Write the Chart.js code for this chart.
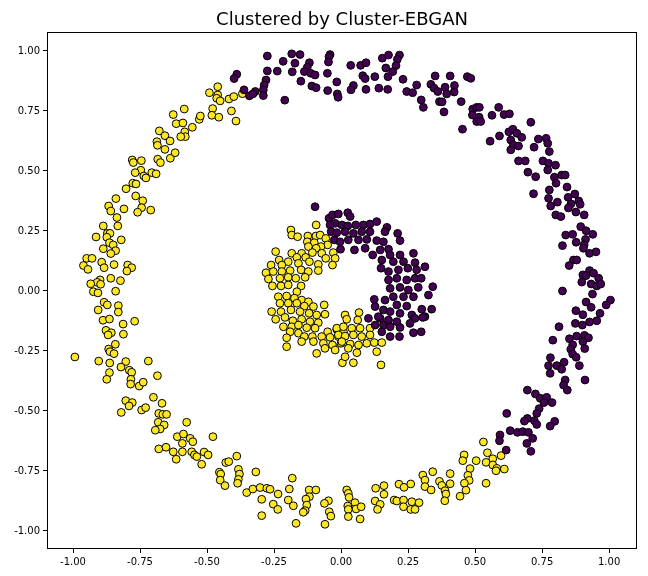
<!DOCTYPE html>
<html>
<head>
<meta charset="utf-8">
<script src="https://cdn.jsdelivr.net/npm/chart.js@4.4.0/dist/chart.umd.min.js"></script>
<style>
  body { margin: 0; background: #fff; }
  #wrap { width: 648px; height: 576px; }
</style>
</head>
<body>
<div id="wrap"><canvas id="scatter" width="648" height="576"></canvas></div>
<script>
/* Точки: внешнее и внутреннее кольцо, два кластера */
var chartTitle = 'Clustered by Cluster-EBGAN';
var xTicks = [-1, -0.75, -0.5, -0.25, 0, 0.25, 0.5, 0.75, 1];
var yTicks = [-1, -0.75, -0.5, -0.25, 0, 0.25, 0.5, 0.75, 1];

var outerPurple = [
  [-0.389,0.903],[-0.399,0.885],[-0.362,0.838],[-0.342,0.813],
  [-0.275,0.979],[-0.216,0.957],[-0.184,0.988],[-0.153,0.985],[-0.172,0.949],[-0.118,0.951],[-0.126,0.932],
  [-0.137,0.914],[-0.113,0.907],[-0.097,0.900],[-0.041,0.985],[-0.045,0.976],[-0.047,0.954],[-0.051,0.907],
  [-0.182,0.913],[-0.238,0.916],[-0.275,0.917],[-0.280,0.879],[-0.287,0.858],[-0.290,0.838],[-0.320,0.831],
  [-0.329,0.821],[-0.290,0.814],[-0.210,0.795],[-0.150,0.874],[-0.109,0.854],[-0.093,0.847],[-0.050,0.835],
  [-0.016,0.871],[-0.014,0.821],[-0.011,0.807],[0.036,0.940],[0.073,0.940],[0.093,0.951],[0.081,0.897],
  [0.090,0.885],[0.046,0.856],[0.037,0.838],[0.093,0.840],[0.126,0.893],[0.141,0.845],[0.154,0.970],
  [0.177,0.983],[0.218,0.983],[0.210,0.965],[0.205,0.939],[0.167,0.929],[0.193,0.914],[0.175,0.893],
  [0.174,0.840],[0.231,0.882],[0.282,0.858],[0.245,0.831],[0.267,0.826],[0.299,0.796],[0.307,0.765],
  [0.335,0.861],[0.351,0.896],[0.347,0.845],[0.361,0.831],[0.367,0.789],
  [0.407,0.896],[0.471,0.893],[0.484,0.886],[0.388,0.849],[0.423,0.856],[0.422,0.829],[0.394,0.821],
  [0.377,0.788],[0.448,0.789],[0.384,0.746],[0.491,0.758],[0.506,0.765],[0.516,0.765],[0.490,0.733],
  [0.515,0.724],[0.506,0.706],[0.521,0.706],[0.453,0.674],[0.563,0.732],[0.588,0.765],[0.608,0.735],
  [0.628,0.738],[0.708,0.703],[0.556,0.624],[0.591,0.646],[0.626,0.663],[0.641,0.674],[0.656,0.657],
  [0.674,0.640],[0.633,0.629],[0.643,0.608],[0.662,0.604],[0.633,0.588],[0.736,0.633],[0.765,0.636],
  [0.771,0.615],[0.720,0.599],[0.777,0.581],[0.662,0.542],[0.687,0.542],[0.753,0.542],[0.774,0.532],
  [0.800,0.524],[0.771,0.504],[0.697,0.495],[0.726,0.476],[0.796,0.474],[0.823,0.483],[0.836,0.483],
  [0.802,0.449],[0.843,0.433],[0.777,0.421],[0.718,0.405],[0.872,0.404],[0.774,0.386],[0.847,0.390],
  [0.887,0.375],[0.807,0.370],[0.858,0.363],[0.892,0.361],[0.782,0.354],[0.848,0.346],[0.876,0.329],
  [0.801,0.317],[0.820,0.310],[0.907,0.317],
  [0.894,0.268],[0.914,0.251],[0.939,0.236],[0.838,0.233],[0.864,0.236],[0.877,0.203],[0.912,0.215],
  [0.826,0.189],[0.907,0.192],[0.904,0.178],[0.927,0.157],[0.951,0.163],[0.867,0.129],[0.879,0.129],
  [0.851,0.106],[0.927,0.085],[0.942,0.074],[0.902,0.067],[0.914,0.064],[0.961,0.053],[0.898,0.037],
  [0.933,0.029],[0.954,0.021],[0.969,0.029],[0.826,0.000],[0.938,-0.013],[1.005,-0.038],[0.989,-0.058],
  [0.914,-0.046],[0.933,-0.068],[0.876,-0.082],[0.902,-0.099],[0.966,-0.093],[0.954,-0.124],[0.927,-0.129],
  [0.874,-0.135],[0.900,-0.142],[0.813,-0.149],[0.879,-0.188],[0.908,-0.185],[0.923,-0.195],[0.852,-0.199],
  [0.790,-0.205],[0.902,-0.211],[0.864,-0.224],[0.909,-0.240],[0.857,-0.243],[0.864,-0.263],[0.877,-0.276],
  [0.781,-0.278],[0.832,-0.297],[0.774,-0.311],[0.805,-0.311],[0.823,-0.326],[0.889,-0.311],[0.780,-0.343],
  [0.836,-0.371],[0.910,-0.371],[0.830,-0.392],[0.695,-0.413],
  [0.844,-0.413],[0.725,-0.429],[0.743,-0.447],[0.767,-0.443],[0.757,-0.465],[0.787,-0.465],[0.739,-0.490],
  [0.730,-0.510],[0.618,-0.510],[0.695,-0.531],[0.684,-0.542],[0.721,-0.540],[0.730,-0.556],[0.797,-0.543],
  [0.780,-0.563],[0.631,-0.582],[0.658,-0.589],[0.678,-0.586],[0.699,-0.589],[0.593,-0.600],[0.591,-0.624],
  [0.715,-0.614],[0.693,-0.635],[0.616,-0.663],[0.708,-0.668]
];

var outerYellow = [
  [-0.460,0.851],[-0.491,0.826],[-0.460,0.817],[-0.464,0.803],[-0.451,0.792],[-0.418,0.800],[-0.400,0.810],
  [-0.368,0.822],[-0.409,0.750],[-0.392,0.708],[-0.479,0.760],[-0.482,0.732],[-0.456,0.724],[-0.585,0.758],
  [-0.626,0.735],[-0.615,0.697],[-0.590,0.700],[-0.555,0.682],[-0.529,0.715],[-0.525,0.729],[-0.678,0.667],
  [-0.657,0.647],[-0.638,0.625],[-0.687,0.622],[-0.685,0.607],[-0.583,0.663],[-0.581,0.643],[-0.598,0.643],
  [-0.657,0.590],[-0.684,0.549],[-0.674,0.535],[-0.637,0.553],[-0.619,0.576],[-0.779,0.546],[-0.775,0.535],
  [-0.745,0.543],[-0.747,0.503],[-0.768,0.493],[-0.736,0.479],[-0.728,0.471],[-0.706,0.493],[-0.690,0.488],
  [-0.777,0.449],[-0.765,0.446],[-0.802,0.426],[-0.766,0.396],[-0.740,0.376],[-0.840,0.385],[-0.867,0.354],
  [-0.810,0.342],[-0.744,0.347],[-0.710,0.337],
  [-0.859,0.333],[-0.759,0.328],[-0.836,0.306],[-0.887,0.271],[-0.833,0.271],[-0.914,0.225],[-0.872,0.240],
  [-0.862,0.240],[-0.874,0.224],[-0.820,0.213],[-0.864,0.201],[-0.850,0.192],[-0.887,0.176],[-0.841,0.168],
  [-0.859,0.156],[-0.949,0.136],[-0.929,0.136],[-0.961,0.106],[-0.944,0.090],[-0.893,0.120],[-0.884,0.097],
  [-0.847,0.110],[-0.796,0.108],[-0.781,0.097],[-0.799,0.083],[-0.859,0.053],[-0.823,0.043],[-0.899,0.046],
  [-0.910,0.036],[-0.934,0.030],[-0.897,0.028],[-0.924,-0.003],[-0.907,-0.008],[-0.841,-0.001],[-0.884,-0.047],
  [-0.872,-0.058],[-0.831,-0.061],[-0.906,-0.079],[-0.831,-0.088],[-0.888,-0.122],[-0.864,-0.117],[-0.813,-0.138],
  [-0.770,-0.126],[-0.877,-0.164],[-0.857,-0.174],[-0.869,-0.183],[-0.812,-0.180],[-0.842,-0.222],[-0.867,-0.242],
  [-0.862,-0.253],[-0.847,-0.261],[-0.993,-0.275],[-0.904,-0.292],[-0.863,-0.300],[-0.803,-0.294],[-0.719,-0.292],
  [-0.821,-0.317],[-0.790,-0.330],[-0.781,-0.339],[-0.864,-0.340],
  [-0.874,-0.368],[-0.784,-0.368],[-0.785,-0.388],[-0.753,-0.396],[-0.738,-0.380],[-0.685,-0.353],[-0.803,-0.457],
  [-0.779,-0.465],[-0.791,-0.479],[-0.820,-0.506],[-0.744,-0.496],[-0.729,-0.486],[-0.700,-0.443],[-0.668,-0.468],
  [-0.680,-0.510],[-0.665,-0.514],[-0.651,-0.514],[-0.682,-0.547],[-0.660,-0.558],[-0.675,-0.575],[-0.693,-0.580],
  [-0.576,-0.547],[-0.611,-0.607],[-0.588,-0.596],[-0.563,-0.614],[-0.553,-0.628],[-0.592,-0.635],[-0.478,-0.607],
  [-0.680,-0.658],[-0.653,-0.651],[-0.626,-0.670],[-0.592,-0.670],[-0.615,-0.701],[-0.557,-0.670],[-0.547,-0.683],
  [-0.538,-0.690],[-0.511,-0.671],[-0.496,-0.683],[-0.520,-0.722],[-0.430,-0.715],[-0.419,-0.711],[-0.389,-0.688],
  [-0.454,-0.755],[-0.449,-0.763],[-0.451,-0.788],[-0.433,-0.811],[-0.383,-0.743],[-0.379,-0.763],[-0.383,-0.785],
  [-0.386,-0.801],
  [-0.318,-0.754],[-0.352,-0.840],[-0.329,-0.825],[-0.302,-0.819],[-0.277,-0.822],[-0.265,-0.826],[-0.235,-0.846],
  [-0.296,-0.868],[-0.253,-0.888],[-0.236,-0.910],[-0.296,-0.936],[-0.182,-0.780],[-0.193,-0.825],[-0.197,-0.871],
  [-0.178,-0.895],[-0.119,-0.829],[-0.094,-0.829],[-0.118,-0.857],[-0.131,-0.867],[-0.128,-0.892],[-0.134,-0.915],
  [-0.141,-0.922],[-0.168,-0.968],[-0.047,-0.874],[-0.062,-0.885],[-0.044,-0.920],[-0.038,-0.938],[-0.060,-0.972],
  [0.021,-0.829],[0.027,-0.843],[0.030,-0.860],[0.052,-0.882],[0.025,-0.896],[0.027,-0.910],[0.056,-0.908],
  [0.075,-0.899],[0.027,-0.940],[0.071,-0.950],[0.129,-0.822],[0.160,-0.811],[0.160,-0.847],[0.127,-0.875],
  [0.146,-0.889],[0.136,-0.910],[0.216,-0.805],[0.235,-0.818],[0.260,-0.804],[0.198,-0.871],[0.208,-0.875],
  [0.233,-0.871],[0.264,-0.878],[0.291,-0.882],[0.233,-0.899],[0.260,-0.910],[0.276,-0.910],[0.305,-0.767],
  [0.313,-0.788],[0.313,-0.815],
  [0.531,-0.629],[0.546,-0.674],[0.459,-0.683],[0.597,-0.686],[0.454,-0.707],[0.504,-0.707],[0.566,-0.699],
  [0.541,-0.714],[0.566,-0.725],[0.581,-0.739],[0.609,-0.742],[0.578,-0.749],[0.481,-0.740],[0.342,-0.753],
  [0.407,-0.761],[0.473,-0.768],[0.478,-0.789],[0.367,-0.793],[0.460,-0.801],[0.407,-0.803],[0.376,-0.810],
  [0.541,-0.801],[0.336,-0.829],[0.388,-0.832],[0.466,-0.830],[0.391,-0.846],[0.444,-0.855],[0.387,-0.874]
];

var innerPurple = [
  [-0.097,0.351],[-0.045,0.303],[-0.032,0.317],[-0.010,0.321],[-0.022,0.282],[-0.041,0.275],[0.003,0.275],
  [-0.037,0.247],[-0.016,0.243],[-0.025,0.213],[-0.004,0.205],[-0.002,0.174],
  [0.025,0.326],[0.034,0.310],[0.025,0.271],[0.055,0.275],[0.083,0.275],[0.108,0.279],[0.133,0.289],
  [0.171,0.265],[0.164,0.247],[0.211,0.240],[0.220,0.210],[0.015,0.247],[0.046,0.240],[0.077,0.247],
  [0.108,0.247],[0.027,0.213],[0.065,0.213],[0.096,0.215],[0.133,0.210],[0.158,0.205],[0.050,0.171],
  [0.090,0.178],[0.118,0.150],[0.146,0.171],[0.177,0.174],[0.183,0.150],[0.220,0.150],[0.270,0.157],
  [0.152,0.129],[0.195,0.122],[0.233,0.122],[0.276,0.118],[0.149,0.095],[0.177,0.081],[0.214,0.088],
  [0.249,0.095],[0.282,0.088],[0.313,0.101],[0.177,0.046],[0.208,0.053],[0.245,0.046],[0.276,0.053],
  [0.299,0.053],[0.183,0.011],[0.220,0.015],[0.251,0.004],[0.288,0.015],[0.326,-0.017],[0.195,-0.024],
  [0.233,-0.024],[0.270,-0.024],[0.124,-0.035],[0.164,-0.038],[0.127,-0.065],[0.208,-0.058],[0.245,-0.063],
  [0.301,-0.076],[0.158,-0.079],[0.183,-0.086],[0.220,-0.093],[0.264,-0.100],[0.313,-0.107],[0.102,-0.114],
  [0.146,-0.114],[0.177,-0.121],[0.208,-0.128],[0.276,-0.114],[0.127,-0.142],[0.158,-0.142],[0.183,-0.149],
  [0.220,-0.152],[0.257,-0.135],[0.270,-0.174],[0.299,-0.170],[0.152,-0.170],[0.183,-0.190],[0.218,-0.190],
  [0.342,0.018],[0.338,-0.076],[0.305,-0.110],[0.139,-0.107]
];

var innerYellow = [
  [-0.093,0.275],[-0.187,0.254],[-0.184,0.233],[-0.162,0.226],[-0.124,0.229],[-0.094,0.229],[-0.078,0.233],
  [-0.057,0.219],[-0.126,0.205],[-0.100,0.201],[-0.050,0.192],[-0.075,0.185],[-0.122,0.185],[-0.093,0.178],
  [-0.244,0.164],[-0.184,0.157],[-0.147,0.157],[-0.107,0.160],[-0.072,0.157],[-0.029,0.160],[-0.165,0.140],
  [-0.132,0.140],[-0.057,0.136],[-0.022,0.136],[-0.231,0.129],[-0.197,0.122],[-0.159,0.115],[-0.118,0.122],
  [-0.085,0.111],[-0.032,0.108],[-0.261,0.108],[-0.221,0.108],[-0.280,0.076],[-0.253,0.081],[-0.221,0.081],
  [-0.190,0.085],[-0.149,0.088],[-0.122,0.081],[-0.085,0.085],[-0.271,0.050],[-0.228,0.053],[-0.197,0.057],
  [-0.169,0.053],[-0.134,0.057],[-0.256,0.021],[-0.224,0.021],[-0.197,0.025],[-0.149,0.021],[-0.165,-0.003],
  [-0.234,-0.024],[-0.203,-0.021],[-0.174,-0.030],[-0.147,-0.038],[-0.122,-0.045],[-0.228,-0.051],[-0.197,-0.051],
  [-0.165,-0.051],[-0.137,-0.063],[-0.103,-0.065],[-0.063,-0.058],[-0.060,-0.097],[-0.259,-0.086],[-0.224,-0.086],
  [-0.187,-0.079],[-0.153,-0.086],[-0.119,-0.093],[-0.091,-0.100],[-0.244,-0.118],[-0.209,-0.110],[-0.180,-0.124],
  [-0.147,-0.118],[-0.116,-0.128],[-0.085,-0.132],[-0.215,-0.149],[-0.184,-0.149],[-0.159,-0.142],[-0.128,-0.153],
  [-0.097,-0.155],[-0.190,-0.170],[-0.159,-0.176],[-0.203,-0.195],[-0.137,-0.190],[-0.107,-0.190],[-0.050,-0.170],
  [-0.016,-0.160],[0.009,-0.170],[-0.072,-0.190],[-0.041,-0.193],[-0.010,-0.190],[-0.147,-0.211],[-0.103,-0.211],
  [-0.066,-0.218],[-0.032,-0.225],[0.000,-0.218],[-0.060,-0.239],[-0.022,-0.246],[-0.091,-0.260],[0.005,-0.299],
  [-0.203,-0.232],
  [0.067,-0.090],[0.015,-0.100],[0.021,-0.118],[0.062,-0.121],[-0.016,-0.155],[0.009,-0.149],[0.040,-0.155],
  [0.071,-0.155],[0.108,-0.155],[-0.010,-0.183],[0.015,-0.188],[0.046,-0.183],[0.077,-0.190],[0.108,-0.183],
  [0.003,-0.211],[0.034,-0.221],[0.065,-0.225],[0.096,-0.218],[0.124,-0.215],[0.152,-0.215],[0.027,-0.239],
  [0.059,-0.257],[0.133,-0.253],[0.015,-0.274],[0.046,-0.299],[0.149,-0.308]
];

function toXY(list) {
  return list.map(function (p) { return { x: p[0], y: p[1] }; });
}

var purple = '#440154';
var yellow = '#fde725';

/* рамка вокруг области графика и заголовок, как в matplotlib */
var framePlugin = {
  id: 'frame',
  afterDraw: function (chart) {
    var a = chart.chartArea;
    var c = chart.ctx;
    c.save();
    c.strokeStyle = '#000';
    c.lineWidth = 1;
    c.strokeRect(a.left + 0.5, a.top + 0.5, a.right - a.left - 1, a.bottom - a.top - 1);
    c.fillStyle = '#000';
    c.font = '18px "DejaVu Sans"';
    c.textAlign = 'center';
    c.textBaseline = 'alphabetic';
    c.fillText(chartTitle, (a.left + a.right) / 2, a.top - 7);
    c.restore();
  }
};

var pointStyle = {
  pointRadius: 3.9,
  pointHoverRadius: 3.9,
  borderColor: '#000',
  borderWidth: 1
};

var ctx = document.getElementById('scatter').getContext('2d');
var scatter = new Chart(ctx, {
  type: 'scatter',
  data: {
    datasets: [
      Object.assign({ label: 'outer 0', data: toXY(outerPurple), backgroundColor: purple }, pointStyle),
      Object.assign({ label: 'outer 1', data: toXY(outerYellow), backgroundColor: yellow }, pointStyle),
      Object.assign({ label: 'inner 0', data: toXY(innerPurple), backgroundColor: purple }, pointStyle),
      Object.assign({ label: 'inner 1', data: toXY(innerYellow), backgroundColor: yellow }, pointStyle)
    ]
  },
  options: {
    responsive: false,
    devicePixelRatio: 1,
    animation: false,
    layout: { padding: { top: 32, right: 11, left: 0, bottom: 0 } },
    plugins: {
      legend: { display: false },
      tooltip: { enabled: false }
    },
    scales: {
      x: {
        type: 'linear',
        min: -1.097,
        max: 1.104,
        afterBuildTicks: function (s) { s.ticks = xTicks.map(function (v) { return { value: v }; }); },
        afterFit: function (s) { s.height = 27; },
        ticks: {
          color: '#000',
          font: { family: 'DejaVu Sans', size: 10 },
          padding: 3,
          maxRotation: 0,
          callback: function (v) { return Number(v).toFixed(2); }
        },
        grid: { display: true, drawOnChartArea: false, drawTicks: true, tickLength: 4, color: '#000' },
        border: { display: false }
      },
      y: {
        type: 'linear',
        min: -1.075,
        max: 1.079,
        afterBuildTicks: function (s) { s.ticks = yTicks.map(function (v) { return { value: v }; }); },
        afterFit: function (s) { s.width = 47; },
        ticks: {
          color: '#000',
          font: { family: 'DejaVu Sans', size: 10 },
          padding: 3,
          callback: function (v) { return Number(v).toFixed(2); }
        },
        grid: { display: true, drawOnChartArea: false, drawTicks: true, tickLength: 4, color: '#000' },
        border: { display: false }
      }
    }
  },
  plugins: [framePlugin]
});
</script>
</body>
</html>
